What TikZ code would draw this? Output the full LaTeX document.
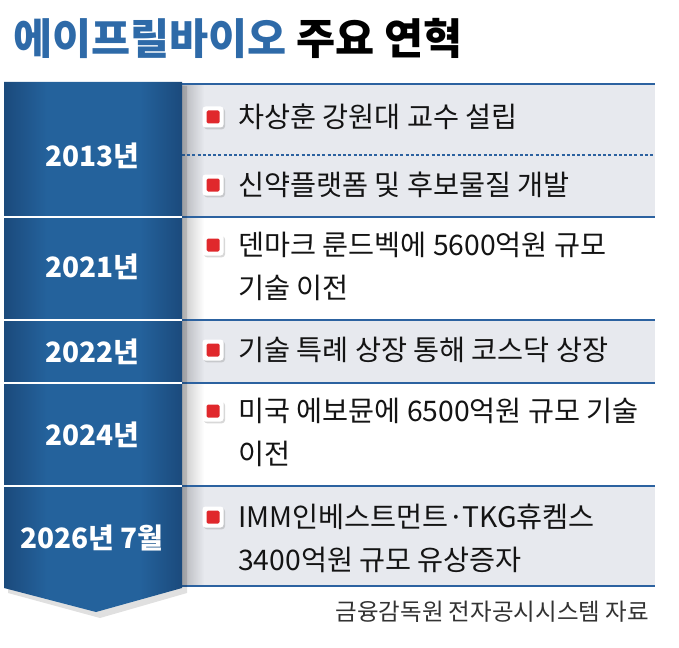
\documentclass[tikz,border=0pt]{standalone}
\usepackage{fontspec}
\setmainfont{Noto Sans CJK KR}
\usetikzlibrary{shadows,fadings}
\definecolor{cdark}{HTML}{1B4A7C}
\definecolor{cmid}{HTML}{24629C}
\definecolor{titleblue}{HTML}{2E6AA8}
\definecolor{linecol}{HTML}{2C62A0}
\definecolor{rowgray}{HTML}{E7E9EE}
\definecolor{bulred}{HTML}{E0282C}
\pgfdeclarehorizontalshading{colshade}{100bp}{color(0bp)=(cdark); color(25bp)=(cdark); color(37bp)=(cmid); color(63bp)=(cmid); color(75bp)=(cdark); color(100bp)=(cdark)}
\tikzset{
  rowline/.style={draw=linecol, line width=2.2pt},
  sepline/.style={draw=white, line width=2.5pt},
  yearlbl/.style={text=white, font=\bfseries\fontsize{28}{30}\selectfont, anchor=center},
  itemtxt/.style={text=black!92, font=\fontsize{28.3}{43}\selectfont, anchor=west, align=left, inner sep=0pt},
  bulbox/.style={fill=white, rounded corners=3pt, minimum width=21pt, minimum height=21pt, inner sep=0pt,
    drop shadow={shadow xshift=1.5pt, shadow yshift=-1.8pt, opacity=0.3}},
  bulin/.style={fill=bulred, rounded corners=1.5pt, minimum width=13pt, minimum height=13pt, inner sep=0pt}
}
\begin{document}
\begin{tikzpicture}[x=1pt,y=-1pt]
\useasboundingbox (0,0) rectangle (679,647);
% rows backgrounds
\fill[rowgray] (182,84) rectangle (655,217);
\fill[white] (182,217) rectangle (655,320);
\fill[rowgray] (182,320) rectangle (655,383);
\fill[white] (182,383) rectangle (655,486);
\fill[rowgray] (182,486) rectangle (655,586);
% shadow of column onto rows
\fill[black, opacity=0.22, path fading=east] (182,84) rectangle (204,586);
% row lines
\draw[rowline] (182,84) -- (655,84);
\draw[rowline] (182,217) -- (655,217);
\draw[rowline] (182,320) -- (655,320);
\draw[rowline] (182,383) -- (655,383);
\draw[rowline] (182,486) -- (655,486);
\draw[rowline] (182,586) -- (655,586);
\draw[draw=linecol, line width=1.2pt, dash pattern=on 3pt off 2.2pt] (182,155) -- (655,155);
% column shadow
\fill[black, opacity=0.12] (8,86) -- (187,86) -- (187,593) -- (100,618) -- (8,593) -- cycle;
% left column
\shade[shading=colshade] (4,82) -- (182,82) -- (182,588) -- (96,612) -- (4,588) -- cycle;
\draw[sepline] (4,217) -- (182,217);
\draw[sepline] (4,320) -- (182,320);
\draw[sepline] (4,383) -- (182,383);
\draw[sepline] (4,486) -- (182,486);
% title
\node[anchor=west, inner sep=0pt, font=\bfseries\fontsize{42.5}{42.5}\selectfont] (title) at (13,38)
  {\textcolor{titleblue}{에이프릴바이오} 주요 연혁};
% years
\node[yearlbl] (y1) at (92,156) {2013년};
\node[yearlbl] (y2) at (92,267) {2021년};
\node[yearlbl] (y3) at (92,352) {2022년};
\node[yearlbl] (y4) at (92,435) {2024년};
\node[yearlbl] (y5) at (92,538) {2026년 7월};
% bullets
\foreach \n/\yy in {b1/117,b2/185,b3/245,b4/350,b5/411,b6/517}{
  \node[bulbox] (\n) at (213,\yy) {};
  \node[bulin] (\n in) at (213,\yy) {};
}
% items
\node[itemtxt] (t1) at (238,117) {차상훈 강원대 교수 설립};
\node[itemtxt] (t2) at (238,185) {신약플랫폼 및 후보물질 개발};
\node[itemtxt] (t3) at (238,266.5) {덴마크 룬드벡에 5600억원 규모\\기술 이전};
\node[itemtxt] (t4) at (238,350) {기술 특례 상장 통해 코스닥 상장};
\node[itemtxt] (t5) at (238,432.5) {미국 에보뮨에 6500억원 규모 기술\\이전};
\node[itemtxt] (t6) at (238,538) {IMM인베스트먼트·TKG휴켐스\\3400억원 규모 유상증자};
% source
\node[anchor=east, inner sep=0pt, text=black!80, font=\fontsize{23.5}{23.5}\selectfont] (src) at (649,612) {금융감독원 전자공시시스템 자료};
\end{tikzpicture}
\end{document}
